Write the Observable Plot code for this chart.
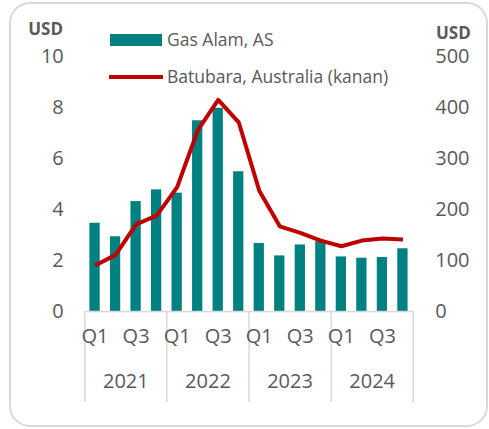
<!DOCTYPE html>
<html>
<head>
<meta charset="utf-8">
<script src="https://cdn.jsdelivr.net/npm/d3@7"></script>
<script src="https://cdn.jsdelivr.net/npm/@observablehq/plot@0.6"></script>
<style>
  html, body { margin: 0; padding: 0; background: #fff; }
  #chart svg { display: block; }
</style>
</head>
<body>
<div id="chart"></div>
<script>
// Data
const years = ["2021","2021","2021","2021","2022","2022","2022","2022","2023","2023","2023","2023","2024","2024","2024","2024"];
const quarters = ["Q1","Q2","Q3","Q4","Q1","Q2","Q3","Q4","Q1","Q2","Q3","Q4","Q1","Q2","Q3","Q4"];
const gasUS = [3.46, 2.93, 4.31, 4.77, 4.64, 7.48, 7.97, 5.48, 2.67, 2.18, 2.61, 2.74, 2.14, 2.09, 2.12, 2.46]; // left axis, USD
const coalAU = [90, 111, 171, 188, 244, 355, 415, 371, 237, 167, 154, 139, 128, 139, 143, 141]; // right axis, USD
const leftTicks = [0, 2, 4, 6, 8, 10];
const rightTicks = [0, 100, 200, 300, 400, 500];
const shownQuarters = ["Q1", "Q3"];
const seriesNames = ["Gas Alam, AS", "Batubara, Australia (kanan)"];
const unitLabel = "USD";

const teal = "#008080";
const red = "#C00000";
const grey = "#595959";
const lineGrey = "#d9d9d9";

const ratio = rightTicks[rightTicks.length - 1] / leftTicks[leftTicks.length - 1]; // 50

const rows = years.map((y, i) => ({i, year: y, q: quarters[i], gas: gasUS[i], coal: coalAU[i]}));
const qLabels = rows.filter(d => shownQuarters.includes(d.q));
const yearGroups = d3.groups(rows, d => d.year).map(([year, rs]) => ({
  year, center: d3.mean(rs, d => d.i), start: d3.min(rs, d => d.i) - 0.5, end: d3.max(rs, d => d.i) + 0.5
}));
const boundaries = Array.from(new Set(yearGroups.flatMap(g => [g.start, g.end])));

const W = 489, H = 429;

const chart = Plot.plot({
  width: W,
  height: H,
  marginLeft: 84.3,
  marginRight: 76.3,
  marginTop: 56,
  marginBottom: 118,
  x: {domain: [-0.5, rows.length - 0.5], axis: null},
  y: {domain: [0, 10], axis: null},
  style: {fontFamily: "'Open Sans', sans-serif", fontSize: "20px", color: grey, background: "transparent"},
  marks: [
    Plot.rectY(rows, {x1: d => d.i - 0.25, x2: d => d.i + 0.25, y: "gas", fill: teal}),
    Plot.ruleY([0], {stroke: lineGrey, strokeWidth: 1.5}),
    Plot.ruleX(boundaries, {stroke: lineGrey, strokeWidth: 1.5, insetTop: 255, insetBottom: -91}),
    Plot.lineY(rows, {x: "i", y: d => d.coal / ratio, stroke: red, strokeWidth: 4, strokeLinejoin: "round", strokeLinecap: "butt"}),
    Plot.axisY({anchor: "left", ticks: leftTicks, tickSize: 0, tickPadding: 21, fill: grey, label: null}),
    Plot.axisY({anchor: "right", ticks: rightTicks.map(v => v / ratio), tickFormat: d => d3.format("d")(Math.round(d * ratio)), tickSize: 0, tickPadding: 22, fill: grey, label: null}),
    Plot.text(qLabels, {x: "i", text: "q", frameAnchor: "bottom", dy: 31, fill: grey}),
    Plot.text(yearGroups, {x: "center", text: "year", frameAnchor: "bottom", dy: 76.5, fill: grey})
  ]
});

document.getElementById("chart").appendChild(chart);

// Decorations: frame, unit labels, legend
const svg = d3.select(chart);
svg.insert("rect", ":first-child")
  .attr("x", 10).attr("y", 3).attr("width", 477).attr("height", 423)
  .attr("rx", 20).attr("ry", 20)
  .attr("fill", "#fff").attr("stroke", lineGrey).attr("stroke-width", 2);

svg.append("text").text(unitLabel)
  .attr("x", 63).attr("y", 35).attr("text-anchor", "end")
  .attr("font-weight", "bold").attr("font-size", 17).attr("fill", grey);
svg.append("text").text(unitLabel)
  .attr("x", 436).attr("y", 38.5).attr("text-anchor", "start")
  .attr("font-weight", "bold").attr("font-size", 17).attr("fill", grey);

const leg = svg.append("g").attr("font-size", 17.5).attr("fill", grey).attr("text-anchor", "start");
leg.append("rect").attr("x", 110).attr("y", 34).attr("width", 52).attr("height", 12).attr("fill", teal);
leg.append("text").text(seriesNames[0]).attr("x", 167).attr("y", 40).attr("dy", "0.35em").attr("text-anchor", "start");
leg.append("line").attr("x1", 109).attr("x2", 163).attr("y1", 77).attr("y2", 77)
  .attr("stroke", red).attr("stroke-width", 4);
leg.append("text").text(seriesNames[1]).attr("x", 167).attr("y", 77).attr("dy", "0.35em").attr("text-anchor", "start");
</script>
</body>
</html>
